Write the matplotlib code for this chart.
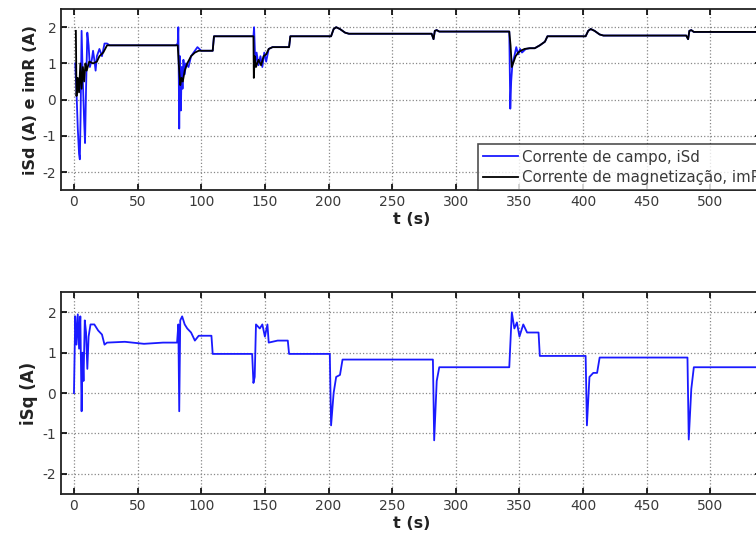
import numpy as np
import matplotlib
matplotlib.use("Agg")
from matplotlib import pyplot as plt

# %% dados
t_imr = [1.5, 2, 3, 4, 5, 6, 7, 8, 9, 10, 12, 15, 18, 20, 23, 26,
         80, 81.5, 82.5, 83.5, 84.5, 85.5, 87, 89, 92, 95, 98, 109, 110,
         140, 141, 141.3, 142, 143, 145, 147, 149, 151, 153, 156, 169, 170,
         202, 204, 206, 209, 213, 216,
         281, 282.5, 283.5, 285, 287,
         342, 343, 344, 345, 347, 349, 351, 354, 358, 362, 366, 370, 372,
         402, 404, 406, 409, 413, 416,
         481, 482.5, 483.5, 485, 487, 540]
imr = [1.9, 0.1, 0.6, 0.2, 1.0, 0.3, 0.9, 0.5, 1.0, 0.8, 1.05, 1.0, 1.05, 1.2, 1.3, 1.5,
       1.5, 1.5, 0.9, 0.4, 0.6, 0.5, 0.8, 1.0, 1.2, 1.3, 1.35, 1.35, 1.75,
       1.75, 1.75, 0.6, 1.2, 0.9, 1.1, 0.95, 1.2, 1.25, 1.4, 1.45, 1.45, 1.75,
       1.75, 1.95, 2.0, 1.95, 1.85, 1.82,
       1.82, 1.67, 1.9, 1.92, 1.88,
       1.88, 1.5, 0.9, 1.0, 1.2, 1.3, 1.35, 1.4, 1.42, 1.42, 1.5, 1.6, 1.75,
       1.75, 1.9, 1.95, 1.9, 1.8, 1.77,
       1.77, 1.67, 1.9, 1.92, 1.87, 1.87]

t_isd = [1, 2, 3, 4, 4.6, 5.2, 6, 7, 8, 8.7, 9.5, 10.5, 11.5, 12.5, 14, 15, 16, 17, 18, 20, 22, 24, 26, 28,
         80, 81.5, 82, 82.7, 83.3, 84, 84.6, 85.3, 86, 87, 88, 90, 92, 94, 97, 100, 109, 110,
         141, 141.5, 142.5, 143.5, 145, 146.5, 148, 149.5, 151, 153, 156, 169, 170,
         202, 204, 206, 209, 213, 216,
         281, 282.5, 283.5, 285, 287,
         342, 342.8, 343.5, 344.5, 346, 347.5, 349, 350.5, 352, 355, 358, 362, 366, 370, 372,
         402, 404, 406, 409, 413, 416,
         481, 482.5, 483.5, 485, 487, 540]
isd = [1.0, 0.2, -0.8, -1.5, -1.65, -0.5, 1.9, 0.5, -0.6, -1.2, 0.3, 1.85, 1.5, 0.9, 1.1, 1.35, 1.1, 0.8, 1.2, 1.4, 1.2, 1.55, 1.55, 1.5,
       1.5, 1.55, 2.0, -0.8, 1.2, -0.3, 0.9, 0.3, 1.1, 0.7, 1.0, 0.9, 1.2, 1.3, 1.45, 1.35, 1.35, 1.75,
       1.75, 2.0, 1.0, 1.3, 0.95, 1.2, 0.9, 1.3, 1.05, 1.4, 1.45, 1.45, 1.75,
       1.75, 1.95, 2.0, 1.95, 1.85, 1.82,
       1.82, 1.67, 1.9, 1.92, 1.88,
       1.88, -0.25, 0.5, 1.0, 1.2, 1.45, 1.25, 1.4, 1.3, 1.4, 1.42, 1.42, 1.5, 1.6, 1.75,
       1.75, 1.9, 1.95, 1.9, 1.8, 1.77,
       1.77, 1.67, 1.9, 1.92, 1.87, 1.87]

t_isq = [0, 1, 2, 3, 4, 5, 6, 6.8, 7.5, 8.5, 9.5, 10.5, 11.5, 13, 16, 19, 22, 24, 26, 40, 55, 70, 81,
         82, 82.7, 83.5, 85, 87, 89, 92, 95, 98, 108, 109,
         140, 141, 142, 143, 146, 148, 150, 152, 153, 160, 168, 169,
         201, 202, 204, 206, 209, 211,
         282, 283, 285, 287,
         342, 344, 346, 348, 350, 353, 356, 365, 366,
         402, 403, 405, 408, 411, 413,
         482, 483, 485, 487, 540]
isq = [0.0, 1.9, 1.2, 1.95, 1.1, 1.9, -0.45, 1.0, 0.3, 1.8, 1.5, 0.6, 1.4, 1.7, 1.7, 1.55, 1.45, 1.2, 1.25, 1.27, 1.22, 1.25, 1.25,
       1.7, -0.45, 1.8, 1.9, 1.7, 1.6, 1.5, 1.3, 1.42, 1.42, 0.97,
       0.97, 0.25, 0.4, 1.7, 1.6, 1.7, 1.4, 1.7, 1.25, 1.3, 1.3, 0.97,
       0.97, -0.8, 0.0, 0.4, 0.45, 0.83,
       0.83, -1.17, 0.3, 0.64,
       0.64, 2.0, 1.6, 1.75, 1.4, 1.7, 1.5, 1.5, 0.92,
       0.92, -0.8, 0.4, 0.5, 0.5, 0.88,
       0.88, -1.15, 0.1, 0.64, 0.64]

yticks = [-2, -1, 0, 1, 2]
xticks = np.arange(0, 501, 50)

# %%
plt.rcParams["font.family"] = ["DejaVu Sans"]
plt.rcParams["axes.unicode_minus"] = False

fig = plt.figure(figsize=(7.56, 5.37), dpi=100)
ax1 = fig.add_axes([0.081, 0.646, 0.926, 0.337])
ax2 = fig.add_axes([0.081, 0.080, 0.926, 0.376])

ax1.plot(t_isd, isd, color="#1a1aff", lw=1.3, label="Corrente de campo, iSd")
ax1.plot(t_imr, imr, color="black", lw=1.3, label="Corrente de magnetização, imR")
ax2.plot(t_isq, isq, color="#1a1aff", lw=1.3)

for ax in (ax1, ax2):
    ax.set_xlim(-10, 540)
    ax.set_ylim(-2.5, 2.5)
    ax.set_xticks(xticks)
    ax.set_yticks(yticks)
    ax.grid(True, ls=":", color="#888888", lw=0.9)
    ax.tick_params(direction="in", top=True, right=True, labelsize=10,
                   labelcolor="#3a3a3a", length=4, width=1.2)
    for s in ax.spines.values():
        s.set_linewidth(1.3)
        s.set_color("#222222")
    ax.set_xlabel("t (s)", fontsize=11.5, fontweight="bold", labelpad=2,
                  color="#222222")

ax1.set_ylabel("iSd (A) e imR (A)", fontsize=11.5, fontweight="bold",
               labelpad=3, color="#222222")
ax2.set_ylabel("iSq (A)", fontsize=12, fontweight="bold", labelpad=3,
               color="#222222")

leg = ax1.legend(loc="lower left", bbox_to_anchor=(0.595, 0.0), fontsize=10.8,
                 frameon=True, fancybox=False, handlelength=2.3,
                 handletextpad=0.3, borderpad=0.35, labelspacing=0.35,
                 borderaxespad=0)
leg.get_frame().set_edgecolor("#222222")
leg.get_frame().set_linewidth(1.2)
for txt in leg.get_texts():
    txt.set_color("#3a3a3a")

fig.savefig("out.png", dpi=100)
